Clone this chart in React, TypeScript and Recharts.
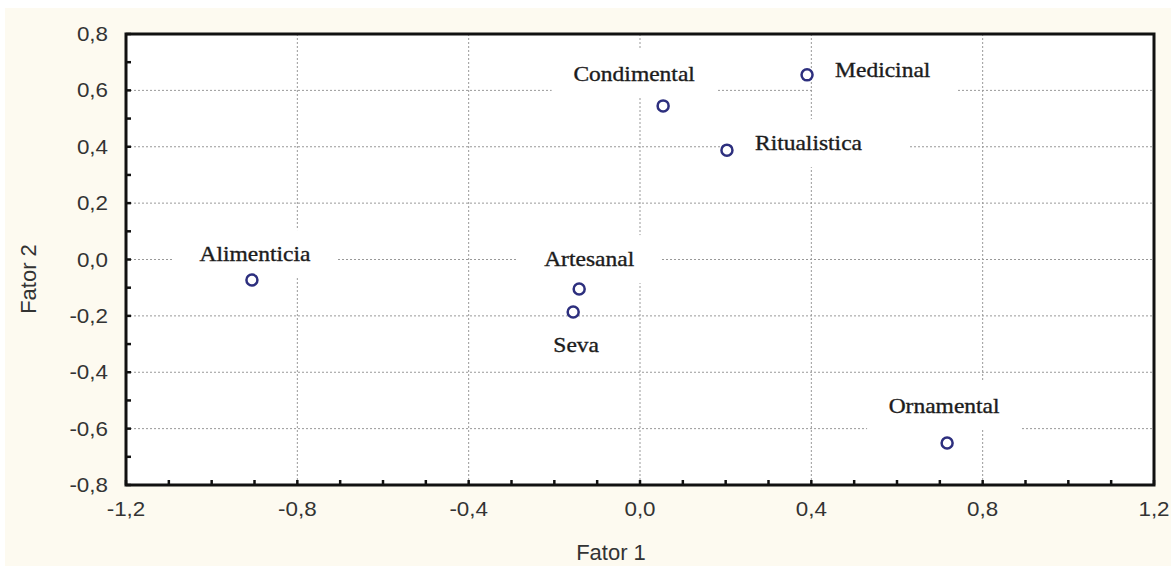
import { ScatterChart, Scatter, XAxis, YAxis, CartesianGrid, Label, ReferenceArea } from 'recharts'

const labels = ['Alimenticia', 'Artesanal', 'Seva', 'Condimental', 'Medicinal', 'Ritualistica', 'Ornamental']
const fator1 = [-0.906, -0.142, -0.156, 0.054, 0.39, 0.203, 0.717]
const fator2 = [-0.073, -0.105, -0.186, 0.545, 0.655, 0.388, -0.651]

const xTicks = [-1.2, -1.1, -1.0, -0.9, -0.8, -0.7, -0.6, -0.5, -0.4, -0.3, -0.2, -0.1, 0, 0.1, 0.2, 0.3, 0.4, 0.5, 0.6, 0.7, 0.8, 0.9, 1.0, 1.1, 1.2]
const xMajor = [-1.2, -0.8, -0.4, 0, 0.4, 0.8, 1.2]
const yTicks = [-0.8, -0.7, -0.6, -0.5, -0.4, -0.3, -0.2, -0.1, 0, 0.1, 0.2, 0.3, 0.4, 0.5, 0.6, 0.7, 0.8]
const yMajor = [-0.8, -0.6, -0.4, -0.2, 0, 0.2, 0.4, 0.6, 0.8]

const points = labels.map((name, i) => ({ name, x: fator1[i], y: fator2[i] }))

// where each point's name sits relative to its marker
const LABEL_POS: Record<string, { dx: number; dy: number; anchor: 'start' | 'middle' }> = {
  Alimenticia: { dx: 3, dy: -26, anchor: 'middle' },
  Artesanal: { dx: 10, dy: -30, anchor: 'middle' },
  Seva: { dx: 3, dy: 33, anchor: 'middle' },
  Condimental: { dx: -29, dy: -32, anchor: 'middle' },
  Medicinal: { dx: 28, dy: -5, anchor: 'start' },
  Ritualistica: { dx: 28, dy: -7, anchor: 'start' },
  Ornamental: { dx: -3, dy: -37, anchor: 'middle' },
}

const AXIS = '#111'
const TEXT = '#333'
const SANS = '"Liberation Sans", Arial, sans-serif'
const SERIF = '"Liberation Serif", "Times New Roman", serif'

const isMajor = (list: number[], v: number) => list.some((m) => Math.abs(m - v) < 1e-6)
const fmt = (v: number) => v.toFixed(1).replace('.', ',')

const XTick = (props: any) => {
  const { x, y, payload } = props
  if (!isMajor(xMajor, payload.value)) return null
  return (
    <text transform={`translate(${x},${y + 31}) scale(1.12,1)`} textAnchor="middle" fill={TEXT} stroke="none" fontSize={20} fontFamily={SANS}>
      {fmt(payload.value)}
    </text>
  )
}

const YTick = (props: any) => {
  const { x, y, payload } = props
  if (!isMajor(yMajor, payload.value)) return null
  return (
    <text transform={`translate(${x - 18},${y + 7}) scale(1.12,1)`} textAnchor="end" fill={TEXT} stroke="none" fontSize={20} fontFamily={SANS}>
      {fmt(payload.value)}
    </text>
  )
}

const LabelShape = (props: any) => {
  const { cx, cy, payload } = props
  const p = LABEL_POS[payload.name]
  const tx = cx + p.dx
  const ty = cy + p.dy
  const w = payload.name.length * 11
  const left = p.anchor === 'start' ? tx : tx - w / 2
  return (
    <g>
      <rect x={left - 22} y={ty - 24} width={w + 44} height={48} fill="#fff" />
      <text
        transform={`translate(${tx},${ty}) scale(1.12,1)`}
        textAnchor={p.anchor}
        dominantBaseline="central"
        fill="#1c1c1c"
        stroke="#1c1c1c"
        strokeWidth={0.35}
        fontSize={21}
        fontFamily={SERIF}
      >
        {payload.name}
      </text>
    </g>
  )
}

const Marker = (props: any) => (
  <circle cx={props.cx} cy={props.cy} r={5.5} fill="#fff" stroke="#2d2f7e" strokeWidth={2.5} />
)

const tickLine = { stroke: AXIS, strokeWidth: 2.5 }

export default function App() {
  return (
    <div style={{ width: 1176, height: 566, background: '#fff', position: 'relative' }}>
      <style>{'body{margin:0}'}</style>
      <div style={{ position: 'absolute', left: 5, top: 8, right: 5, bottom: 0, background: '#fdfaf0' }} />
      <div style={{ position: 'absolute', left: 0, top: 0 }}>
        <ScatterChart width={1176} height={566} margin={{ top: 34, right: 22, bottom: 0, left: 26 }}>
          <CartesianGrid
            fill="#fff"
            stroke="#999"
            strokeDasharray="2 2"
            verticalValues={[-0.8, -0.4, 0, 0.4, 0.8]}
            horizontalValues={[-0.6, -0.4, -0.2, 0, 0.2, 0.4, 0.6]}
          />
          <XAxis
            type="number"
            dataKey="x"
            domain={[-1.2, 1.2]}
            ticks={xTicks}
            interval={0}
            height={81}
            tickSize={-5}
            tickMargin={5}
            stroke={AXIS}
            axisLine={false}
            tickLine={tickLine}
            tick={<XTick />}
          >
            <Label
              content={() => (
                <text x={611} y={560} textAnchor="middle" fill={TEXT} stroke="none" fontSize={22} fontFamily={SANS}>
                  Fator 1
                </text>
              )}
            />
          </XAxis>
          <YAxis
            type="number"
            dataKey="y"
            domain={[-0.8, 0.8]}
            ticks={yTicks}
            interval={0}
            width={100}
            tickSize={-5}
            tickMargin={5}
            stroke={AXIS}
            axisLine={false}
            tickLine={tickLine}
            tick={<YTick />}
          >
            <Label
              content={() => (
                <text
                  transform="translate(36,279) rotate(-90)"
                  textAnchor="middle"
                  fill={TEXT}
                  stroke="none"
                  fontSize={22}
                  fontFamily={SANS}
                >
                  Fator 2
                </text>
              )}
            />
          </YAxis>
          <XAxis
            xAxisId="top"
            orientation="top"
            type="number"
            dataKey="x"
            domain={[-1.2, 1.2]}
            ticks={xTicks}
            interval={0}
            height={0}
            tickSize={-5}
            stroke={AXIS}
            axisLine={false}
            tickLine={tickLine}
            tick={false}
          />
          <YAxis
            yAxisId="right"
            orientation="right"
            type="number"
            dataKey="y"
            domain={[-0.8, 0.8]}
            ticks={yTicks}
            interval={0}
            width={0}
            tickSize={-5}
            stroke={AXIS}
            axisLine={false}
            tickLine={tickLine}
            tick={false}
          />
          <Scatter data={points} xAxisId="top" yAxisId="right" shape={<LabelShape />} isAnimationActive={false} />
          <Scatter data={points} shape={<Marker />} isAnimationActive={false} />
          <ReferenceArea
            x1={-1.2}
            x2={1.2}
            y1={-0.8}
            y2={0.8}
            fill="none"
            fillOpacity={0}
            stroke={AXIS}
            strokeWidth={3}
            ifOverflow="visible"
          />
        </ScatterChart>
      </div>
    </div>
  )
}
